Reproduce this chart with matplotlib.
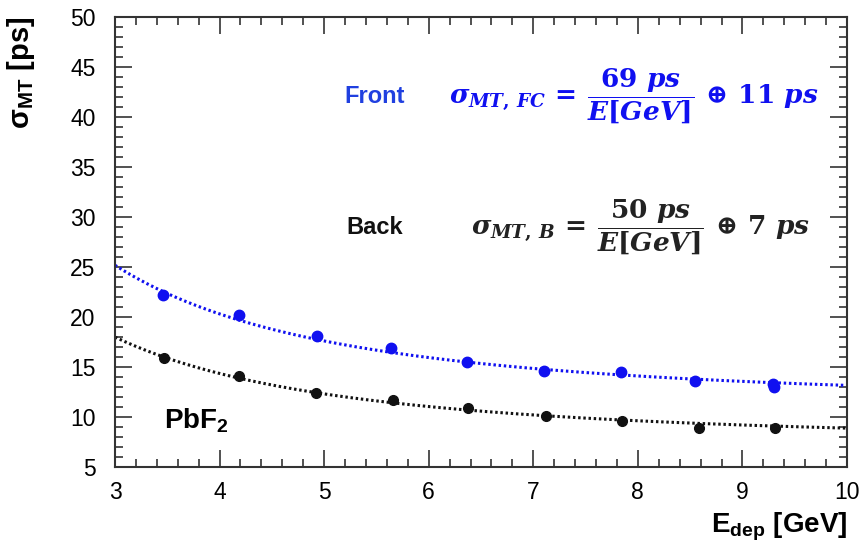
import numpy as np
import matplotlib.pyplot as plt
from matplotlib.ticker import MultipleLocator

plt.rcParams['font.family'] = ['Liberation Sans', 'DejaVu Sans']
plt.rcParams['mathtext.fontset'] = 'custom'
plt.rcParams['mathtext.rm'] = 'DejaVu Serif:bold'
plt.rcParams['mathtext.it'] = 'DejaVu Serif:italic:bold'
plt.rcParams['mathtext.bf'] = 'DejaVu Serif:bold'
plt.rcParams['mathtext.sf'] = 'Liberation Sans:bold'

e_front = [3.46, 4.19, 4.93, 5.64, 6.37, 7.10, 7.84, 8.55, 9.29, 9.30]
sig_front = [22.2, 20.2, 18.1, 16.9, 15.5, 14.6, 14.5, 13.6, 13.3, 13.0]
e_back = [3.47, 4.19, 4.92, 5.66, 6.38, 7.12, 7.85, 8.58, 9.31]
sig_back = [15.9, 14.1, 12.4, 11.7, 10.9, 10.1, 9.6, 8.9, 8.9]

# Fit parameters a/E (+) c, as drawn
fit_front = (67.5, 11.3)
fit_back = (49.2, 7.4)

blue = '#1010f0'
black = '#111111'

fig = plt.figure(figsize=(8.62, 5.45), dpi=100)
ax = fig.add_axes([0.1334, 0.1431, 0.8492, 0.8257])

e = np.linspace(3, 10, 300)
for (a, c), col in [(fit_front, blue), (fit_back, black)]:
    ax.plot(e, np.sqrt((a / e) ** 2 + c ** 2), color=col, lw=2.2,
            linestyle=(0, (0.8, 0.9)))

ax.plot(e_front, sig_front, 'o', color=blue, ms=7.5)
ax.plot(e_back, sig_back, 'o', color=black, ms=7)

ax.set_xlim(3, 10)
ax.set_ylim(5, 50)
ax.xaxis.set_major_locator(MultipleLocator(1))
ax.xaxis.set_minor_locator(MultipleLocator(0.2))
ax.yaxis.set_major_locator(MultipleLocator(5))
ax.yaxis.set_minor_locator(MultipleLocator(1))
ax.tick_params(which='both', direction='in', top=True, right=True,
               labelsize=16.5, width=1.2, color='#333333')
ax.tick_params(which='major', length=12)
ax.tick_params(which='minor', length=6)
ax.tick_params(axis='y', pad=14)
ax.tick_params(axis='x', pad=10)
for s in ax.spines.values():
    s.set_linewidth(1.5)
    s.set_color('#333333')

ax.set_xlabel(r'E$_{\mathsf{dep}}$ [GeV]', fontsize=20, fontweight='bold',
              loc='right', labelpad=5)
ax.set_ylabel(r'σ$_{\mathsf{MT}}$ [ps]', fontsize=21,
              fontweight='bold', loc='top', labelpad=24)

ax.text(3.47, 9.6, r'PbF$_{\mathsf{2}}$', fontsize=20, fontweight='bold',
        ha='left', va='center')
ax.text(5.19, 42.1, 'Front', fontsize=17, fontweight='bold', color='#2040e0',
        ha='left', va='center')
ax.text(5.21, 29.0, 'Back', fontsize=17, fontweight='bold', color=black,
        ha='left', va='center')
ax.text(6.19, 42.1,
        r'$\sigma_{MT,\,FC}\,=\,\dfrac{69\ ps}{E[GeV]}\,\oplus\,11\ ps$',
        fontsize=19, color=blue, ha='left', va='center')
ax.text(6.40, 29.0,
        r'$\sigma_{MT,\,B}\,=\,\dfrac{50\ ps}{E[GeV]}\,\oplus\,7\ ps$',
        fontsize=19, color='#222222', ha='left', va='center')

fig.savefig('out.png', dpi=100)
